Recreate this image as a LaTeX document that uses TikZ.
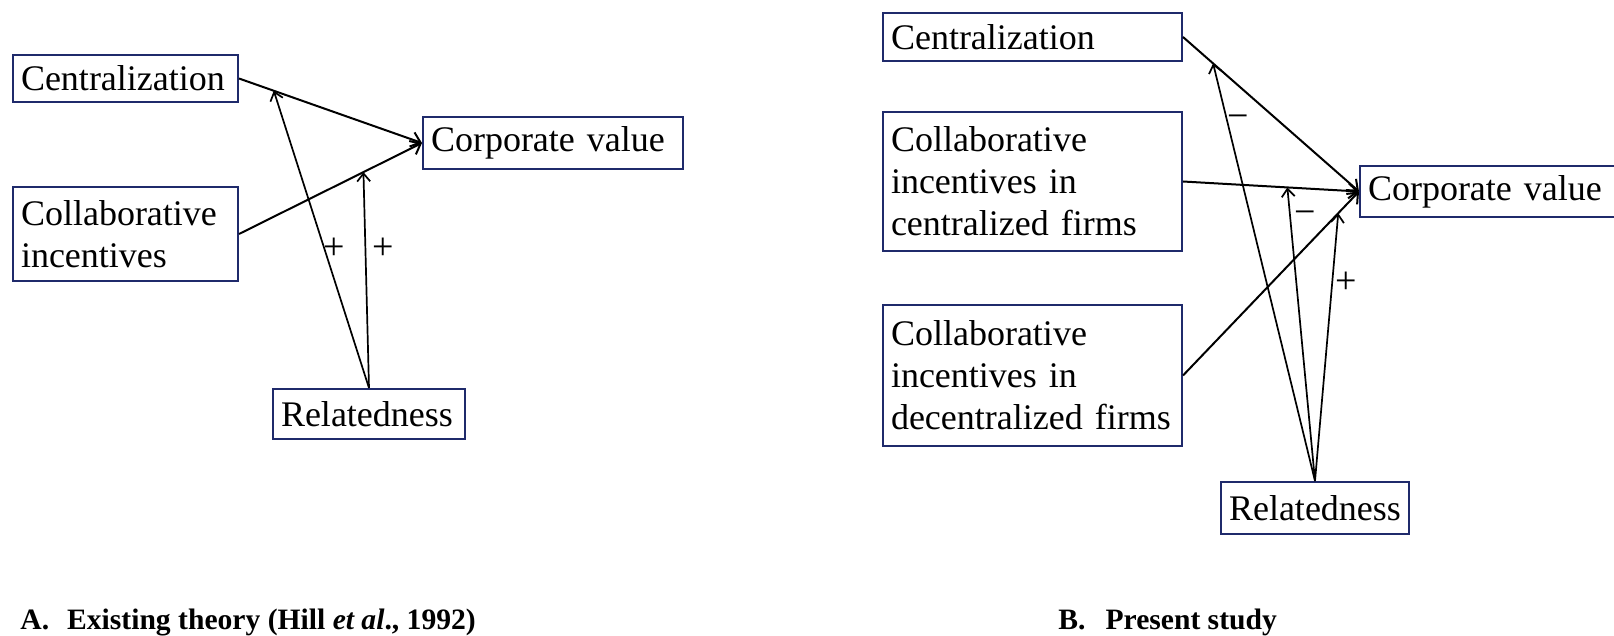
\documentclass[tikz,border=0pt]{standalone}
\usepackage{fontspec}
\setmainfont{Liberation Serif}
\usetikzlibrary{arrows.meta,calc}
\definecolor{navy}{HTML}{1F2A6B}
\begin{document}
\begin{tikzpicture}[x=0.5pt,y=-0.5pt,
  box/.style={draw=navy, line width=1pt, anchor=north west, align=left,
    inner xsep=4pt, inner ysep=0pt, font=\fontsize{18}{21}\selectfont},
  main/.style={line width=1pt, -{Straight Barb[length=4.5pt,width=7.5pt]}},
  modarrow/.style={line width=0.85pt, -{Straight Barb[length=4pt,width=6.5pt]}},
  sign/.style={font=\fontsize{19}{21}\selectfont, inner sep=0pt},
  captext/.style={anchor=base west, inner sep=0pt, font=\fontsize{14.8}{17}\selectfont\bfseries}
]
\useasboundingbox (0,0) rectangle (1614,636);
\clip (0,0) rectangle (1614,636);

% Panel A
\node[box, minimum width=112.5pt, minimum height=23.5pt, text width=104.5pt] (cenA) at (12,54) {Centralization};
\node[box, minimum width=130pt, minimum height=26pt, text width=122pt] (cvA) at (422,116) {Corporate value};
\node[box, minimum width=112.5pt, minimum height=47pt, text width=104.5pt] (colA) at (12,186) {Collaborative\\incentives};
\node[box, minimum width=96pt, minimum height=25pt, text width=88pt] (relA) at (272,388) {Relatedness};

\draw[main] (cenA.east) -- (cvA.west);
\draw[main] (colA.east) -- (cvA.west);
\draw[modarrow] (relA.north) -- ($(cenA.east)!0.19!(cvA.west)$);
\draw[modarrow] (relA.north) -- ($(colA.east)!0.68!(cvA.west)$);
\node[sign] (pA1) at (334.5,249) {+};
\node[sign] (pA2) at (383,249) {+};

% Panel B
\node[box, minimum width=149.5pt, minimum height=24pt, text width=141.5pt] (cenB) at (882,12) {Centralization};
\node[box, minimum width=149.5pt, minimum height=69.5pt, text width=141.5pt] (ccB) at (882,111) {Collaborative\\incentives in\\centralized firms};
\node[box, minimum width=149.5pt, minimum height=70.5pt, text width=141.5pt] (cdB) at (882,304) {Collaborative\\incentives in\\decentralized firms};
\node[box, minimum width=135pt, minimum height=25.5pt, text width=127pt] (cvB) at (1359,165) {Corporate value};
\node[box, minimum width=94pt, minimum height=26pt, text width=86pt] (relB) at (1220,481) {Relatedness};

\draw[main] (cenB.east) -- (cvB.west);
\draw[main] (ccB.east) -- (cvB.west);
\draw[main] (cdB.east) -- (cvB.west);
\draw[modarrow] (relB.north) -- ($(cenB.east)!0.171!(cvB.west)$);
\draw[modarrow] (relB.north) -- ($(ccB.east)!0.593!(cvB.west)$);
\draw[modarrow] (relB.north) -- ($(cdB.east)!0.882!(cvB.west)$);
\node[sign] (mB1) at (1238,121.5) {−};
\node[sign] (mB2) at (1305,218) {−};
\node[sign] (pB1) at (1346,283) {+};

% Captions
\node[captext] (capA) at (20,630) {A.\hspace{9pt}Existing theory (Hill \textit{et al}., 1992)};
\node[captext] (capB) at (1058,630) {B.\hspace{10pt}Present study};
\end{tikzpicture}
\end{document}
